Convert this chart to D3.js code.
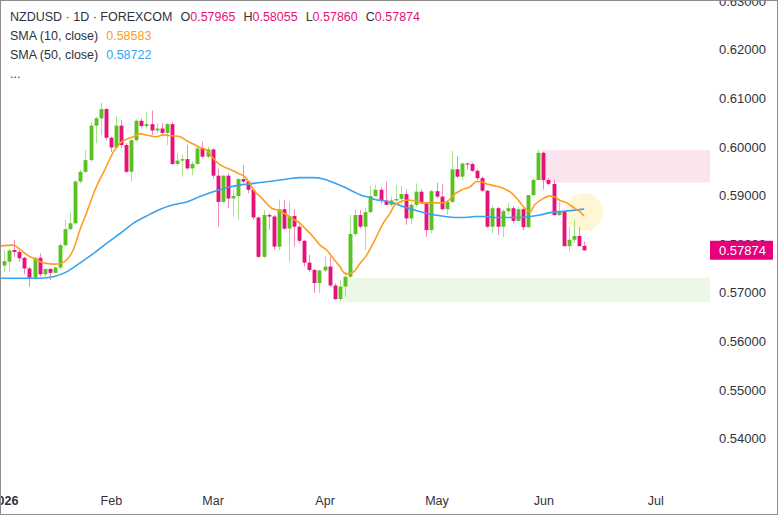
<!DOCTYPE html>
<html>
<head>
<meta charset="utf-8">
<script src="https://cdn.jsdelivr.net/npm/d3@7"></script>
<style>
  html, body { margin: 0; padding: 0; background: #fff; }
  svg { display: block; font-family: "Liberation Sans", Arial, sans-serif; }
</style>
</head>
<body>
<svg id="chart" width="780" height="517"></svg>
<script>
// ---------------------------------------------------------------------------
// Data (NZDUSD daily, one entry per trading day from 2 Jan 2026)

const opens = [
  0.5756, 0.5764, 0.5788, 0.5784, 0.5772, 0.5750, 0.5731, 0.5772, 0.5738, 0.5749,
  0.5741, 0.5752, 0.5798, 0.5831, 0.5843, 0.5929, 0.5949, 0.5973, 0.6044, 0.6059,
  0.6078, 0.6019, 0.5999, 0.6044, 0.6004, 0.5949, 0.6014, 0.6054, 0.6043, 0.6047,
  0.6034, 0.6038, 0.6029, 0.6047, 0.5965, 0.5972, 0.5975, 0.5956, 0.5965, 0.5997,
  0.5980, 0.5995, 0.5941, 0.5887, 0.5941, 0.5894, 0.5899, 0.5934, 0.5929, 0.5912,
  0.5855, 0.5774, 0.5860, 0.5857, 0.5795, 0.5872, 0.5832, 0.5858, 0.5836, 0.5807,
  0.5762, 0.5747, 0.5720, 0.5746, 0.5754, 0.5715, 0.5687, 0.5713, 0.5733, 0.5821,
  0.5860, 0.5836, 0.5866, 0.5899, 0.5912, 0.5890, 0.5881, 0.5890, 0.5893, 0.5903,
  0.5853, 0.5881, 0.5908, 0.5884, 0.5829, 0.5909, 0.5898, 0.5872, 0.5887, 0.5954,
  0.5939, 0.5966, 0.5965, 0.5951, 0.5936, 0.5910, 0.5836, 0.5874, 0.5836, 0.5868,
  0.5874, 0.5848, 0.5872, 0.5835, 0.5901, 0.5932, 0.5988, 0.5932, 0.5924, 0.5860,
  0.5867, 0.5796, 0.5809, 0.5817, 0.57965
];
const highs = [
  0.5788, 0.5790, 0.5809, 0.5788, 0.5774, 0.5754, 0.5774, 0.5781, 0.5750, 0.5751,
  0.5754, 0.5802, 0.5850, 0.5867, 0.5932, 0.5953, 0.5994, 0.6051, 0.6062, 0.6091,
  0.6080, 0.6021, 0.6064, 0.6056, 0.6008, 0.6018, 0.6057, 0.6059, 0.6073, 0.6075,
  0.6049, 0.6049, 0.6049, 0.6052, 0.5987, 0.5984, 0.6004, 0.5970, 0.6001, 0.6011,
  0.6001, 0.5997, 0.5956, 0.5942, 0.5946, 0.5912, 0.5936, 0.5963, 0.5932, 0.5915,
  0.5857, 0.5870, 0.5864, 0.5860, 0.5892, 0.5891, 0.5887, 0.5872, 0.5840, 0.5809,
  0.5778, 0.5749, 0.5747, 0.5776, 0.5774, 0.5720, 0.5726, 0.5743, 0.5860, 0.5872,
  0.5870, 0.5874, 0.5920, 0.5922, 0.5918, 0.5929, 0.5898, 0.5922, 0.5920, 0.5913,
  0.5887, 0.5925, 0.5913, 0.5887, 0.5912, 0.5927, 0.5923, 0.5891, 0.5992, 0.5981,
  0.5968, 0.5968, 0.5968, 0.5954, 0.5939, 0.5911, 0.5881, 0.5877, 0.5872, 0.5885,
  0.5879, 0.5877, 0.5876, 0.5901, 0.5936, 0.5994, 0.5990, 0.5936, 0.5932, 0.5887,
  0.5870, 0.5836, 0.5851, 0.5835, 0.58055
];
const lows = [
  0.5743, 0.5743, 0.5774, 0.5764, 0.5738, 0.5713, 0.5730, 0.5733, 0.5733, 0.5726,
  0.5740, 0.5747, 0.5795, 0.5829, 0.5840, 0.5925, 0.5946, 0.5970, 0.6008, 0.6025,
  0.6014, 0.5990, 0.5997, 0.5997, 0.5946, 0.5929, 0.6011, 0.6038, 0.6038, 0.6025,
  0.6028, 0.6025, 0.6004, 0.5963, 0.5961, 0.5939, 0.5953, 0.5942, 0.5963, 0.5977,
  0.5977, 0.5936, 0.5836, 0.5884, 0.5874, 0.5857, 0.5850, 0.5925, 0.5905, 0.5850,
  0.5772, 0.5772, 0.5829, 0.5788, 0.5788, 0.5829, 0.5764, 0.5795, 0.5802, 0.5754,
  0.5743, 0.5700, 0.5699, 0.5743, 0.5713, 0.5685, 0.5682, 0.5692, 0.5731, 0.5817,
  0.5833, 0.5788, 0.5864, 0.5898, 0.5883, 0.5880, 0.5877, 0.5887, 0.5883, 0.5840,
  0.5842, 0.5877, 0.5883, 0.5815, 0.5822, 0.5894, 0.5870, 0.5860, 0.5885, 0.5936,
  0.5932, 0.5953, 0.5949, 0.5932, 0.5908, 0.5834, 0.5822, 0.5819, 0.5815, 0.5860,
  0.5843, 0.5846, 0.5829, 0.5834, 0.5899, 0.5931, 0.5912, 0.5922, 0.5858, 0.5858,
  0.5795, 0.5785, 0.5803, 0.5795, 0.57860
];
const closes = [
  0.5765, 0.5787, 0.5784, 0.5771, 0.5750, 0.5731, 0.5772, 0.5738, 0.5749, 0.5741,
  0.5752, 0.5798, 0.5831, 0.5843, 0.5929, 0.5949, 0.5973, 0.6044, 0.6059, 0.6078,
  0.6019, 0.5999, 0.6044, 0.6004, 0.5949, 0.6014, 0.6054, 0.6043, 0.6047, 0.6034,
  0.6038, 0.6029, 0.6047, 0.5965, 0.5972, 0.5975, 0.5956, 0.5965, 0.5997, 0.5980,
  0.5995, 0.5941, 0.5887, 0.5941, 0.5894, 0.5899, 0.5934, 0.5929, 0.5912, 0.5855,
  0.5774, 0.5860, 0.5857, 0.5795, 0.5872, 0.5832, 0.5858, 0.5836, 0.5807, 0.5762,
  0.5747, 0.5720, 0.5746, 0.5754, 0.5715, 0.5687, 0.5713, 0.5733, 0.5821, 0.5860,
  0.5836, 0.5866, 0.5899, 0.5912, 0.5890, 0.5881, 0.5890, 0.5893, 0.5903, 0.5853,
  0.5881, 0.5908, 0.5884, 0.5829, 0.5909, 0.5898, 0.5872, 0.5887, 0.5954, 0.5939,
  0.5966, 0.5965, 0.5951, 0.5936, 0.5910, 0.5836, 0.5874, 0.5836, 0.5868, 0.5874,
  0.5848, 0.5872, 0.5835, 0.5901, 0.5932, 0.5988, 0.5932, 0.5924, 0.5860, 0.5867,
  0.5796, 0.5809, 0.5817, 0.5796, 0.57874
];

// moving averages: [bar position, value]
const sma10 = [
  [-0.8, 0.5796], [1.8, 0.5798], [3.1, 0.5790], [4.5, 0.5778], [5.8, 0.5771], [7.7, 0.5762],
  [9.7, 0.5759], [11.3, 0.5761], [12.6, 0.5771], [13.6, 0.5788], [14.9, 0.5829], [16.3, 0.5867],
  [17.9, 0.5912], [19.9, 0.5955], [21.5, 0.5990], [22.8, 0.6008], [24.1, 0.6016], [25.4, 0.6021],
  [26.7, 0.6027], [28.7, 0.6023], [30, 0.6021], [31.3, 0.6025], [33, 0.6023], [34.6, 0.6021],
  [35.9, 0.6013], [37.2, 0.6006], [38.5, 0.5999], [39.8, 0.5994], [41.1, 0.5977], [42.5, 0.5963],
  [44.4, 0.5954], [46, 0.5946], [47.4, 0.5938], [48.3, 0.5925], [49.3, 0.5908], [50.3, 0.5899],
  [51.3, 0.5887], [52.6, 0.5874], [53.9, 0.5870], [55.6, 0.5860], [56.9, 0.5851], [58.2, 0.5843],
  [59.5, 0.5829], [60.8, 0.5815], [62.1, 0.5798], [63.4, 0.5788], [64.7, 0.5771], [66, 0.5754],
  [67, 0.5740], [67.7, 0.5739], [68.7, 0.5743], [70, 0.5761], [71.3, 0.5778], [72.9, 0.5809],
  [74.5, 0.5843], [75.9, 0.5864], [76.8, 0.5881], [77.8, 0.5887], [79.5, 0.5891], [80.8, 0.5889],
  [82.4, 0.5885], [84.1, 0.5885], [85.7, 0.5885], [87, 0.5887], [88.3, 0.5901], [90, 0.5912],
  [91.6, 0.5918], [92.9, 0.5929], [94.2, 0.5927], [94.9, 0.5924], [96.5, 0.5920], [98.1, 0.5915],
  [99.4, 0.5908], [100.8, 0.5894], [102.1, 0.5877], [103.4, 0.5867], [104.3, 0.5881], [106, 0.5894],
  [107, 0.5899], [108, 0.5898], [109.3, 0.5890], [110.6, 0.5885], [111.9, 0.5876], [112.9, 0.5869],
  [114, 0.58583]
];
const sma50 = [
  [-0.8, 0.5730], [3.1, 0.5730], [7.1, 0.5730], [9.7, 0.5733], [12.3, 0.5743], [14.9, 0.5761],
  [17.6, 0.5781], [20.2, 0.5802], [22.8, 0.5822], [25.4, 0.5843], [28, 0.5858], [30.7, 0.5872],
  [33.3, 0.5881], [35.9, 0.5887], [38.5, 0.5898], [41.1, 0.5908], [43.8, 0.5916], [46.4, 0.5922],
  [48.3, 0.5924], [50.3, 0.5927], [52.9, 0.5930], [55.6, 0.5934], [58.2, 0.5937], [60.8, 0.5937],
  [62.8, 0.5934], [64.7, 0.5927], [66.7, 0.5918], [68.7, 0.5908], [70.6, 0.5899], [71.9, 0.5896],
  [72.9, 0.5892], [74.9, 0.5889], [76.8, 0.5884], [78.8, 0.5876], [80.8, 0.5870], [82.7, 0.5864],
  [84.7, 0.5860], [86.7, 0.5857], [88.6, 0.5855], [90.6, 0.5855], [92.6, 0.5857], [94.5, 0.5857],
  [96.2, 0.5855], [98.8, 0.5855], [101.4, 0.5855], [103.4, 0.5857], [105.3, 0.5860], [107.3, 0.5865],
  [109.3, 0.5867], [111.3, 0.5869], [114, 0.58722]
];

const priceTicks = [0.54, 0.55, 0.56, 0.57, 0.58, 0.59, 0.60, 0.61, 0.62, 0.63];

// drawn zones: start bar, top price, bottom price
const zoneStarts = [105.7, 66.6];
const zoneTops = [0.5994, 0.5731];
const zoneBottoms = [0.5927, 0.5681];
const zoneFills = ['#fce4ef', '#edf7e6'];

// highlight circle at the last bar
const markerBar = 114;
const markerPrice = 0.5866;

const lastPrice = 0.57874;

// ---------------------------------------------------------------------------
// Setup

const width = 780;
const height = 517;
const plotRight = 710;

const green = '#58c21e';
const pink = '#e8117a';
const orange = '#ff9d1c';
const blue = '#3aa2f2';
const textColor = '#2f323a';

// weekdays from the first bar of 2026 through July
const tradingDays = d3.utcDay
  .range(new Date(Date.UTC(2026, 0, 2)), new Date(Date.UTC(2026, 7, 1)))
  .filter(d => d.getUTCDay() !== 0 && d.getUTCDay() !== 6);

const x = d3.scaleLinear()
  .domain([-0.79, 138.75])
  .range([0, plotRight]);

const y = d3.scaleLinear()
  .domain([0.54, 0.60])
  .range([438.6, 147]);

const step = x(1) - x(0);
const bodyWidth = step * 0.76;

const svg = d3.select('#chart');

svg.append('defs').append('clipPath')
  .attr('id', 'plot-clip')
  .append('rect')
  .attr('x', 0).attr('y', 0)
  .attr('width', plotRight).attr('height', height);

const plot = svg.append('g').attr('clip-path', 'url(#plot-clip)');

// zones
plot.selectAll('rect.zone')
  .data(zoneStarts)
  .enter()
  .append('rect')
  .attr('class', 'zone')
  .attr('x', d => x(d))
  .attr('width', d => plotRight - x(d))
  .attr('y', (d, i) => y(zoneTops[i]))
  .attr('height', (d, i) => y(zoneBottoms[i]) - y(zoneTops[i]))
  .attr('fill', (d, i) => zoneFills[i]);

// highlight circle
plot.append('circle')
  .attr('cx', x(markerBar))
  .attr('cy', y(markerPrice))
  .attr('r', 19)
  .attr('fill', '#fff6d6');

// candles
const candles = plot.selectAll('g.candle')
  .data(closes)
  .enter()
  .append('g')
  .attr('class', 'candle');

candles.append('line')
  .attr('x1', (d, i) => Math.round(x(i)) + 0.5)
  .attr('x2', (d, i) => Math.round(x(i)) + 0.5)
  .attr('y1', (d, i) => y(highs[i]))
  .attr('y2', (d, i) => y(lows[i]))
  .attr('stroke', (d, i) => d >= opens[i] ? green : pink)
  .attr('stroke-opacity', 0.5)
  .attr('stroke-width', 1);

candles.append('rect')
  .attr('x', (d, i) => Math.round(x(i)) + 0.5 - bodyWidth / 2)
  .attr('width', bodyWidth)
  .attr('y', (d, i) => y(Math.max(d, opens[i])))
  .attr('height', (d, i) => Math.max(1, Math.abs(y(d) - y(opens[i]))))
  .attr('fill', (d, i) => d >= opens[i] ? green : pink);

// moving averages
const smaLine = d3.line()
  .x(d => x(d[0]))
  .y(d => y(d[1]))
  .curve(d3.curveMonotoneX);

plot.append('path')
  .datum(sma50)
  .attr('d', smaLine)
  .attr('fill', 'none')
  .attr('stroke', blue)
  .attr('stroke-width', 1.6);

plot.append('path')
  .datum(sma10)
  .attr('d', smaLine)
  .attr('fill', 'none')
  .attr('stroke', orange)
  .attr('stroke-width', 1.6);

// ---------------------------------------------------------------------------
// Axes

const yAxis = svg.append('g')
  .attr('transform', `translate(${plotRight},0)`)
  .call(d3.axisRight(y)
    .tickValues(priceTicks)
    .tickFormat(d3.format('.5f'))
    .tickSize(0)
    .tickPadding(9));
yAxis.select('.domain').remove();
yAxis.selectAll('text')
  .attr('fill', textColor)
  .style('font-size', '13px');

// first trading day of each month
const monthStarts = tradingDays
  .map((d, i) => i)
  .filter(i => i === 0 || tradingDays[i].getUTCMonth() !== tradingDays[i - 1].getUTCMonth());

const xAxis = svg.append('g')
  .attr('transform', 'translate(0,492)')
  .call(d3.axisBottom(x)
    .tickValues(monthStarts)
    .tickFormat(i => tradingDays[i].getUTCMonth() === 0
      ? d3.utcFormat('%Y')(tradingDays[i])
      : d3.utcFormat('%b')(tradingDays[i]))
    .tickSize(0)
    .tickPadding(4));
xAxis.select('.domain').remove();
xAxis.selectAll('text')
  .attr('fill', textColor)
  .style('font-size', '12.5px')
  .style('font-weight', i => tradingDays[i].getUTCMonth() === 0 ? 'bold' : 'normal');

// last price label
const lastY = y(lastPrice);
svg.append('rect')
  .attr('x', plotRight)
  .attr('y', lastY - 9.5)
  .attr('width', 63)
  .attr('height', 19)
  .attr('rx', 1)
  .attr('fill', '#e6007e');
svg.append('text')
  .attr('x', plotRight + 9)
  .attr('y', lastY)
  .attr('dy', '0.35em')
  .attr('fill', '#fff')
  .style('font-size', '13px')
  .text(d3.format('.5f')(lastPrice));

// ---------------------------------------------------------------------------
// Legend

const last = closes.length - 1;
const fmt = d3.format('.5f');
const legend = svg.append('g').style('font-size', '12.5px');

const row1 = legend.append('text').attr('x', 10).attr('y', 21).attr('fill', textColor);
row1.append('tspan').text('NZDUSD · 1D · FOREXCOM');
[['O', opens[last]], ['H', highs[last]], ['L', lows[last]], ['C', closes[last]]].forEach((p, k) => {
  row1.append('tspan').attr('dx', k === 0 ? 8 : 8).attr('fill', textColor).text(p[0]);
  row1.append('tspan').attr('fill', pink).text(fmt(p[1]));
});

const row2 = legend.append('text').attr('x', 10).attr('y', 40).attr('fill', textColor);
row2.append('tspan').text('SMA (10, close)');
row2.append('tspan').attr('dx', 8).attr('fill', orange).text(fmt(sma10[sma10.length - 1][1]));

const row3 = legend.append('text').attr('x', 10).attr('y', 59).attr('fill', textColor);
row3.append('tspan').text('SMA (50, close)');
row3.append('tspan').attr('dx', 8).attr('fill', blue).text(fmt(sma50[sma50.length - 1][1]));

legend.append('text')
  .attr('x', 10).attr('y', 78)
  .attr('fill', textColor)
  .text('...');

// frame
svg.append('rect')
  .attr('x', 0.5).attr('y', 0.5)
  .attr('width', 777).attr('height', 514)
  .attr('fill', 'none')
  .attr('stroke', '#8c8c8c');
</script>
</body>
</html>
